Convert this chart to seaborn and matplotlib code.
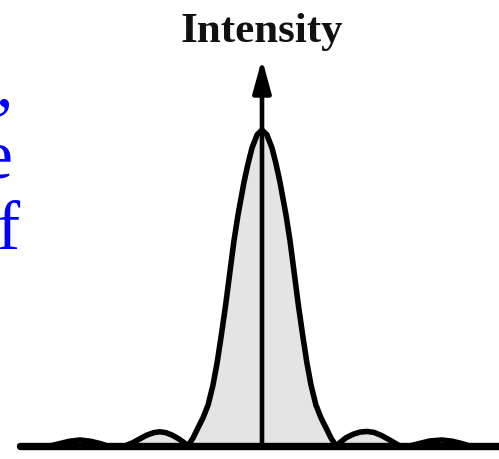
import matplotlib
matplotlib.use("Agg")
import matplotlib.pyplot as plt
import seaborn as sns
import pandas as pd

sns.set_theme(style="white")
plt.rcParams["font.family"] = ["Liberation Serif", "DejaVu Serif"]

# Diffraction pattern (x in units of ~70 px, intensity relative to peak)
position = [-3.46, -3.2, -3.03, -2.9, -2.75, -2.6, -2.45, -2.3, -2.21, -1.96, -1.85, -1.75,
            -1.65, -1.55, -1.46, -1.37, -1.28, -1.2, -1.12, -1.06,
            -0.986, -0.92, -0.843, -0.77, -0.70, -0.64, -0.581, -0.52, -0.464, -0.40, -0.343,
            -0.257, -0.20, -0.143, -0.07, 0.0, 0.07, 0.143, 0.20, 0.257, 0.343, 0.40, 0.464,
            0.52, 0.581, 0.64, 0.70, 0.77, 0.843, 0.92, 0.986,
            1.06, 1.12, 1.2, 1.3, 1.4, 1.5, 1.6, 1.7, 1.8, 1.9, 1.97, 2.11, 2.25,
            2.4, 2.57, 2.72, 2.85, 2.97, 3.2, 3.4]
intensity = [0.0, 0.0, 0.0, 0.007, 0.015, 0.019, 0.015, 0.007, 0.0, 0.0, 0.01, 0.022,
             0.034, 0.042, 0.045, 0.042, 0.034, 0.024, 0.012, 0.0,
             0.025, 0.055, 0.089, 0.13, 0.193, 0.265, 0.351, 0.445, 0.541, 0.65, 0.731,
             0.835, 0.893, 0.943, 0.985, 1.0, 0.985, 0.943, 0.893, 0.835, 0.731, 0.65, 0.541,
             0.445, 0.351, 0.265, 0.193, 0.13, 0.089, 0.055, 0.025,
             0.0, 0.012, 0.026, 0.037, 0.044, 0.046, 0.043, 0.034,
             0.022, 0.009, 0.0, 0.0, 0.008, 0.016, 0.019, 0.015, 0.008, 0.0, 0.0, 0.0]
title_text = "Intensity"
margin_text = [",", ",", "e", "f"]
margin_colors = ["black", "#0000ff", "#0000ff", "#0000ff"]

df = pd.DataFrame({"position": position, "intensity": intensity})

W, H = 499, 459
cx, unit_x = 262, 70
base_y, unit_y = 446, 316

fig = plt.figure(figsize=(W / 100, H / 100), dpi=100)
ax = fig.add_axes([0, 0, 1, 1])
ax.set_xlim(-cx / unit_x, (W - cx) / unit_x)
ax.set_ylim(-(H - base_y) / unit_y, base_y / unit_y)
ax.axis("off")

ax.fill_between(df["position"], 0, df["intensity"], color="#e4e4e4", lw=0, zorder=1)
ax.annotate("", xy=(0, (base_y - 59) / unit_y), xytext=(0, 0),
            arrowprops=dict(arrowstyle="-|>,head_length=0.8,head_width=0.22", lw=3.3,
                            color="black", shrinkA=0, shrinkB=0, mutation_scale=25),
            zorder=2)
sns.lineplot(data=df, x="position", y="intensity", sort=False, estimator=None,
             color="black", lw=4, ax=ax, zorder=3)
ax.plot([(20 - cx) / unit_x, (W + 10 - cx) / unit_x], [0, 0], color="black", lw=5.3,
        solid_capstyle="round", zorder=4)

fig.text(cx / W, 1 - 42 / H, title_text, ha="center", va="baseline",
         fontsize=31, fontweight="bold", color="#111111")

margin_x = [3, 13, 12, 20]
margin_base = [60, 105, 178, 249]
for t, c, mx, my in zip(margin_text, margin_colors, margin_x, margin_base):
    fig.text(mx / W, 1 - my / H, t, ha="right", va="baseline", fontsize=50, color=c)

fig.savefig("out.png", dpi=100)
